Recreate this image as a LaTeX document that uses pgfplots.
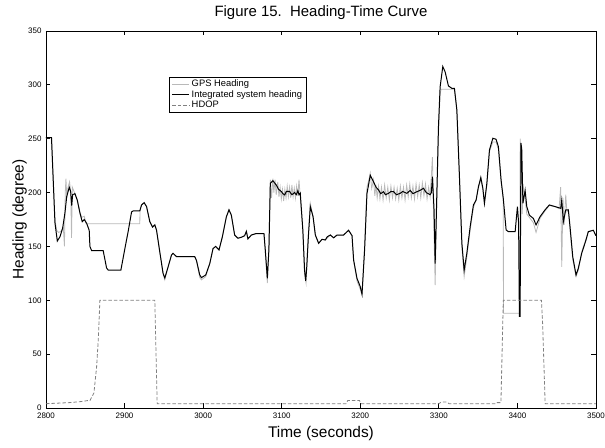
\documentclass[border=0pt]{standalone}
\usepackage{fontspec}
\setmainfont{Liberation Sans}
\usepackage{pgfplots}
\pgfplotsset{compat=1.18}
\definecolor{gpsgray}{RGB}{185,185,185}
\definecolor{hdopgray}{RGB}{128,128,128}
\begin{document}
\begin{tikzpicture}
\useasboundingbox (-46bp,-40bp) rectangle (559bp,408bp);
\begin{axis}[
  scale only axis,
  width=550bp, height=377bp,
  xmin=2800, xmax=3500, ymin=0, ymax=350,
  xtick={2800,2900,...,3500},
  ytick={0,50,...,350},
  tick align=inside,
  xtick pos=both, ytick pos=both,
  major tick length=4.5bp,
  axis line style={line width=0.9pt},
  every tick/.style={black, line width=0.8pt},
  tick label style={font=\fontsize{8}{9}\selectfont},
  /pgf/number format/assume math mode=true,
  /pgf/number format/1000 sep={},
  xticklabel style={yshift=-1bp},
  yticklabel style={xshift=-1bp},
  title={Figure 15.\ \ Heading-Time Curve},
  title style={font=\fontsize{15}{17}\selectfont, at={(axis description cs:0.5,1)}, anchor=base, yshift=9bp},
  xlabel={Time (seconds)},
  xlabel style={font=\fontsize{15.5}{17}\selectfont, at={(axis description cs:0.5,0)}, anchor=base, yshift=-29.5bp},
  ylabel={Heading (degree)},
  ylabel style={font=\fontsize{15.5}{17}\selectfont, at={(axis description cs:-0.048,0.5)}, anchor=center, rotate=0},
  legend style={at={(axis description cs:0.2242,0.8788)}, anchor=north west,
    font=\fontsize{9.4}{11}\selectfont, draw=black, line width=0.9pt,
    inner xsep=2bp, inner ysep=1bp, row sep=-1.8bp, cells={anchor=west}},
  legend image code/.code={\draw[#1] (0bp,0bp) -- (17bp,0bp);},
]
% GPS heading
\addplot[color=gpsgray, line width=0.8pt] coordinates {
(2800,251) (2807,251) (2809,215) (2811.4,175) (2813.5,165) (2816,163) (2819,164)
(2822,168) (2823.5,150) (2824.5,200) (2825.4,213) (2826.5,195) (2828,205) (2830,210)
(2831.5,200) (2832.5,158) (2833.5,205) (2836.8,199) (2839.8,193) (2843.2,182)
(2845.5,177) (2848.7,178) (2851,171) (2919.4,171) (2919.6,183)
(2921.6,188.5) (2924.9,190.6) (2928,187) (2932.1,173) (2935.6,168) (2938.5,170)
(2940.7,165) (2944.8,145) (2949,125) (2951.2,119) (2955.4,131) (2959.7,142)
(2961.7,143.6) (2966.1,140.5) (2989.3,140.5) (2991.5,137) (2995.7,121)
(2997.8,119) (3003.3,122) (3008.4,134) (3012.6,148) (3016,150) (3020.2,146.7)
(3024.5,159) (3029.6,177.6) (3032.9,184) (3035.9,179) (3040.1,160.6)
(3044.3,157.6) (3048.6,158.5) (3052.8,160) (3055,164) (3057,157) (3061.4,160.6)
(3067.7,162) (3077.4,162) (3079,146) (3081.7,116) (3083.7,150) (3085.5,212)
(3087,195) (3088.8,213) (3090,200) (3091.5,212) (3093,198) (3095,210) (3096.5,196)
(3098,205) (3099.5,194) (3101,203) (3102.5,192) (3104,203) (3105.5,195) (3107,206)
(3108.5,196) (3110,205) (3111.5,195) (3113,207) (3114.5,196) (3116,204)
(3117.5,195) (3119,206) (3120.5,197) (3122,212) (3123.6,196) (3126.9,165)
(3129,125) (3131,116) (3133,150) (3136.4,190) (3139.9,177.6) (3142.8,160.6)
(3147,152.9) (3151.3,156.6) (3155.5,156) (3161.9,160.6) (3166.1,158)
(3170.4,160.6) (3178.8,160.6) (3185.1,165) (3189.5,160) (3191.5,137.4)
(3195.8,118) (3200,110) (3202.2,105) (3205.5,150) (3208.5,205) (3211,212)
(3212.7,218) (3214.5,204) (3216.9,212) (3218.5,197) (3220,207) (3221.5,195)
(3223.3,206) (3225,194) (3227,205) (3229,193) (3231,207) (3233,195) (3235,205)
(3237,193) (3239,206) (3241,195) (3243,205) (3245,194) (3247,204) (3249,193)
(3251,206) (3253,195) (3255,205) (3257,193) (3259,207) (3261,196) (3263,208)
(3265,195) (3267,206) (3269,194) (3271,208) (3273,196) (3275,207) (3277,195)
(3279,209) (3281,197) (3283,208) (3285,194) (3287,205) (3288.9,196)
(3291.8,233) (3293,190) (3295.3,114) (3297,180) (3299.5,255) (3301.6,292)
(3303,296) (3320,296) (3322.9,277) (3326.2,215) (3329.3,150) (3332.2,122)
(3335.6,140) (3339.8,165) (3344,186) (3347.4,193) (3350.4,205) (3353.4,212)
(3356,203) (3358,190) (3361.1,207) (3364.4,238) (3368.7,247) (3372.8,247)
(3375.8,240) (3379.2,210) (3382,195) (3382.2,88) (3403,88) (3403.5,250)
(3405,230) (3406,180) (3407.5,205) (3409.8,195) (3411.9,180) (3415.2,177)
(3420.3,172) (3423.7,163) (3428.8,176) (3435.2,183) (3440.6,188) (3447.9,187)
(3453,185) (3455,205) (3456.4,131) (3458,195) (3459.5,170) (3461.5,198)
(3463,182) (3464.8,184) (3467,165) (3470.4,138) (3474.6,122) (3477.5,128)
(3481.8,145) (3487.3,157) (3490.2,164) (3496.6,165) (3500,160)
};
\addlegendentry{GPS Heading}
% Integrated system heading
\addplot[color=black, line width=1pt] coordinates {
(2800,251) (2807,251) (2809,215) (2811.4,172) (2814.4,155) (2817.8,159)
(2821.2,167) (2824.1,181) (2826.3,196) (2829.6,205) (2831.4,201) (2832.7,188)
(2833.9,198) (2836.8,199) (2839.8,193) (2843.2,181) (2846.1,173) (2848.7,175)
(2851.7,171.5) (2855,165) (2855.9,150) (2858.1,146) (2872.8,146) (2877.1,130)
(2879.2,128) (2895.3,128) (2900.4,148) (2904.6,164) (2908.9,182) (2911,183)
(2919.4,183) (2921.6,188.5) (2924.9,190.6) (2928,187) (2932.1,173)
(2935.6,168) (2938.5,170) (2940.7,165) (2944.8,145) (2949,125) (2951.2,120.7)
(2955.4,131) (2959.7,142) (2961.7,143.6) (2966.1,140.5) (2989.3,140.5)
(2991.5,137) (2995.7,123.5) (2997.8,121) (3003.3,123.5) (3008.4,134)
(3012.6,148) (3016,150) (3020.2,146.7) (3024.5,159) (3029.6,177.6)
(3032.9,184) (3035.9,179) (3040.1,160.6) (3044.3,157.6) (3048.6,158.5)
(3052.8,160) (3055,164) (3057,157) (3061.4,160.6) (3067.7,162) (3077.4,162)
(3079.1,146.7) (3081.7,120.4) (3083.7,147) (3085.5,208.6) (3088.8,211)
(3093.1,207) (3096,203) (3099.5,201) (3101.5,199) (3103.7,197.8) (3106,201)
(3110,201) (3113,198) (3116.4,200) (3118.5,198) (3120.6,201.8) (3122,198)
(3123.6,199.6) (3126.9,165) (3129.1,128) (3130.5,118) (3131.8,130)
(3134,160) (3136.4,187) (3139.9,177.6) (3142.8,160.6) (3147,152.9)
(3151.3,156.6) (3155.5,156) (3158,159) (3161.9,160.6) (3166.1,158)
(3170.4,160.6) (3178.8,160.6) (3185.1,165) (3189.5,160) (3191.5,137.4)
(3195.8,120.4) (3200,112.6) (3202.2,105.6) (3205.5,147) (3208.5,199)
(3212.7,216) (3216.9,210) (3220,205) (3223.3,202.4) (3226,199) (3229.6,200.8)
(3232,198) (3236,199.3) (3239,201) (3242.4,200.8) (3246,198) (3250.8,199.3)
(3254,201) (3259.3,199.3) (3263.5,202) (3267,199) (3272,200.8) (3276,202)
(3280.4,204) (3284,200) (3288.9,198) (3290.5,200) (3291.8,214.8)
(3293.9,183.8) (3295.3,134) (3299.5,261) (3301.6,298) (3305,317) (3308,312)
(3312.2,299) (3316.5,296.8) (3319.8,296.8) (3322.9,276.7) (3326.2,214.8)
(3329.3,153) (3332.2,128) (3335.6,143.6) (3339.8,168) (3344,188.5)
(3347.4,193) (3350.4,205.5) (3353.4,214) (3356,204) (3358,190) (3361.1,208.6)
(3364.4,239.5) (3368.7,250.4) (3372.8,249.5) (3375.8,242.6) (3379.2,211.7)
(3382.2,193) (3385.6,165.3) (3388.6,163.7) (3397.1,163.7) (3400,187)
(3401.5,172) (3402.5,85) (3403.4,85) (3404.5,246) (3405.5,240) (3407,190)
(3409.8,202) (3411.9,187) (3415.2,179) (3420.3,176) (3423.7,170)
(3428.8,177.6) (3435.2,184) (3440.6,188.5) (3447.9,187) (3455.1,185.4)
(3456.4,193) (3458.5,173) (3461.5,184) (3464.8,184) (3467,168) (3470.4,140.5)
(3474.6,123.5) (3477.5,129.7) (3481.8,143.6) (3487.3,156) (3490.2,163.7)
(3496.6,165) (3500,160)
};
\addlegendentry{Integrated system heading}
% HDOP
\addplot[color=hdopgray, line width=0.8pt, dash pattern=on 3.5bp off 2bp] coordinates {
(2800,4) (2830,5) (2845,6) (2854,7) (2856,7) (2861,14) (2864.4,38) (2866.5,63)
(2868.6,100) (2938.5,100) (2941.5,4) (3182,4) (3184,7) (3199,7) (3201,4)
(3300,4) (3303,5.5) (3310,5.5) (3313,4) (3372,4) (3374,5) (3379,5) (3382,100)
(3430.6,100) (3432,80) (3435.3,4) (3500,4)
};
\addlegendentry{HDOP}
\end{axis}
\end{tikzpicture}
\end{document}
